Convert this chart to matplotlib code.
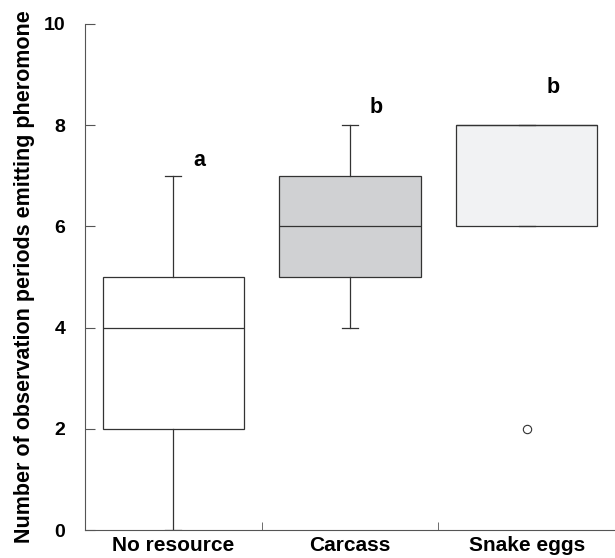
import matplotlib
matplotlib.use("Agg")
import matplotlib.pyplot as plt

plt.rcParams['font.family'] = ['Liberation Sans', 'DejaVu Sans']

categories = ['No resource', 'Carcass', 'Snake eggs']
whislo = [0, 4, 6]
q1 = [2, 5, 6]
med = [4, 6, 8]
q3 = [5, 7, 8]
whishi = [7, 8, 8]
fliers = [[], [], [2]]
fills = ['white', '#d0d1d3', '#f1f2f3']
letters = ['a', 'b', 'b']
letter_y = [7.3, 8.35, 8.75]

stats = []
for i in range(len(categories)):
    stats.append(dict(label=categories[i], whislo=whislo[i], q1=q1[i], med=med[i],
                      q3=q3[i], whishi=whishi[i], fliers=fliers[i]))

fig = plt.figure(figsize=(6.15, 5.58), dpi=100)
ax = fig.add_axes([0.138, 0.050, 0.862, 0.907])

line = dict(color='#333333', linewidth=0.9)
bp = ax.bxp(stats, positions=[1, 2, 3], widths=0.8, patch_artist=True,
            boxprops=dict(edgecolor='#333333', linewidth=0.9),
            whiskerprops=line, capprops=line,
            medianprops=dict(color='#333333', linewidth=0.9),
            flierprops=dict(marker='o', markerfacecolor='white', markeredgecolor='#333333',
                            markersize=6, markeredgewidth=0.8),
            capwidths=0.09)
for patch, c in zip(bp['boxes'], fills):
    patch.set_facecolor(c)

for i, t in enumerate(letters):
    ax.text(i + 1.15, letter_y[i], t, fontsize=15.5, fontweight='bold', ha='center', va='center')

ax.set_xlim(0.5, 3.5)
ax.set_ylim(0, 10)
ax.set_yticks([0, 2, 4, 6, 8, 10])
ax.set_xticks([1, 2, 3])
ax.set_xticklabels(categories)
ax.set_xticks([1.5, 2.5], minor=True)
ax.tick_params(axis='x', which='major', length=0, pad=4)
ax.tick_params(axis='x', which='minor', direction='in', length=6, color='#555555')
ax.tick_params(axis='y', direction='in', length=7, color='#555555', pad=14)
for lab in ax.get_xticklabels():
    lab.set_fontweight('bold')
    lab.set_fontsize(15)
for lab in ax.get_yticklabels():
    lab.set_fontweight('bold')
    lab.set_fontsize(14)

ax.spines['top'].set_visible(False)
ax.spines['right'].set_visible(False)
ax.spines['left'].set_color('#555555')
ax.spines['bottom'].set_color('#555555')

ax.set_ylabel('Number of observation periods emitting pheromone', fontsize=15.5,
              fontweight='bold', labelpad=6)

fig.savefig('out.png', dpi=100)
